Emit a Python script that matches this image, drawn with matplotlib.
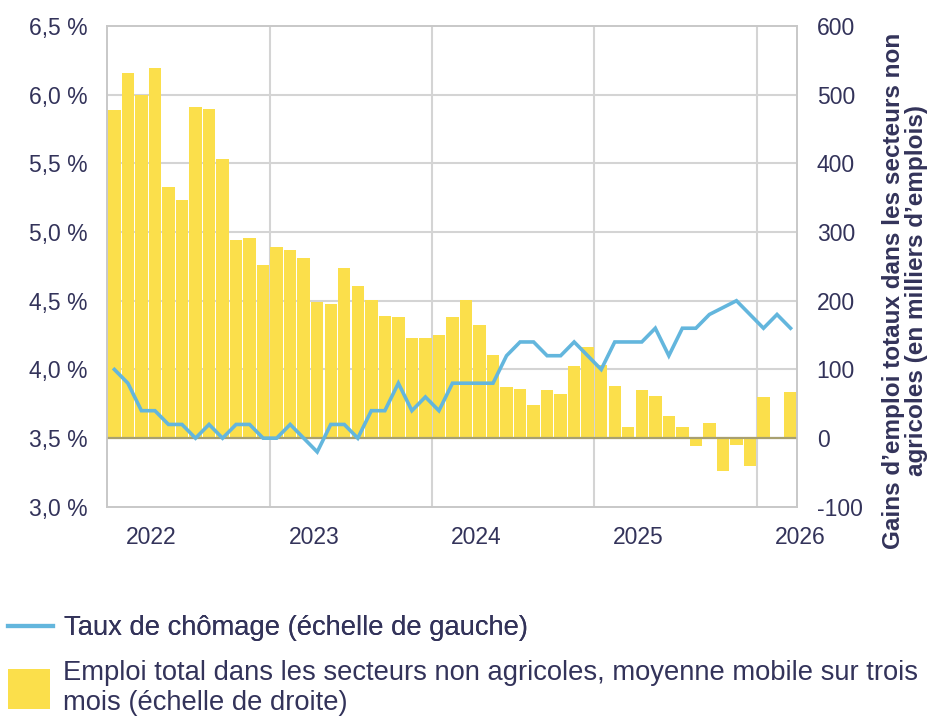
import numpy as np
import matplotlib
matplotlib.use("Agg")
import matplotlib.pyplot as plt
from matplotlib.lines import Line2D
from matplotlib.patches import Patch

plt.rcParams['font.family'] = ['Liberation Sans', 'DejaVu Sans']

# ---- données (janv. 2022 -> mars 2026, mensuel) ----
emploi = [477, 531, 499, 539, 365, 346, 482, 479, 406, 288, 291, 252,
          278, 274, 262, 198, 195, 247, 221, 201, 178, 176, 146, 146,
          150, 176, 201, 164, 121, 74, 71, 48, 70, 64, 105, 132,
          106, 76, 17, 70, 61, 32, 17, -12, 22, -48, -10, -41,
          60, 2, 67]
chomage = [4.0, 3.9, 3.7, 3.7, 3.6, 3.6, 3.5, 3.6, 3.5, 3.6, 3.6, 3.5,
           3.5, 3.6, 3.5, 3.4, 3.6, 3.6, 3.5, 3.7, 3.7, 3.9, 3.7, 3.8,
           3.7, 3.9, 3.9, 3.9, 3.9, 4.1, 4.2, 4.2, 4.1, 4.1, 4.2, 4.1,
           4.0, 4.2, 4.2, 4.2, 4.3, 4.1, 4.3, 4.3, 4.4, 4.45, 4.5, 4.4,
           4.3, 4.4, 4.3]
annees = ["2022", "2023", "2024", "2025", "2026"]
gauche_ticks = [3.0, 3.5, 4.0, 4.5, 5.0, 5.5, 6.0, 6.5]
droite_ticks = [-100, 0, 100, 200, 300, 400, 500, 600]

txt = '#33335a'
jaune = '#fbdf4b'
bleu = '#63b6dd'
grille = '#d4d4d4'

x = np.arange(len(emploi))

fig = plt.figure(figsize=(9.38, 7.17), dpi=100)
ax = fig.add_axes([0.114, 0.293, 0.736, 0.671])
ax2 = ax.twinx()

# barres sur l'axe de droite, mais derriere la ligne
ax.set_zorder(2)
ax.patch.set_visible(False)
ax2.set_zorder(1)

ax2.bar(x, emploi, width=0.92, color=jaune, zorder=2)
ax2.axhline(0, color='#a8a070', lw=1.6, zorder=3)
ax.plot(x, chomage, color=bleu, lw=2.6, solid_joinstyle='miter', zorder=4)

ax.set_xlim(-0.55, len(emploi) - 0.5)
ax2.set_xlim(-0.55, len(emploi) - 0.5)
ax.set_ylim(3.0, 6.5)
ax2.set_ylim(-100, 600)

ax.set_yticks(gauche_ticks)
ax.set_yticklabels([f"{v:.1f} %".replace('.', ',') for v in gauche_ticks])
ax2.set_yticks(droite_ticks)
ax2.set_yticklabels([str(v) for v in droite_ticks])

# grille : lignes horizontales + frontieres d'annees
for v in gauche_ticks[1:-1]:
    ax2.axhline((v - 3.5) * 200, color=grille, lw=1.5, zorder=1)
for i in range(1, len(annees)):
    ax2.axvline(12 * i - 0.5, color=grille, lw=1.5, zorder=1)

ax.set_xticks([])
ax2.set_xticks([])
for i, a in enumerate(annees):
    ax.text(12 * i - 0.5 + 3.25, -0.064, a, transform=ax.get_xaxis_transform(),
            ha='center', va='center', fontsize=16.5, color=txt)

for a in (ax, ax2):
    a.tick_params(axis='y', length=0, labelsize=16.5, labelcolor=txt, pad=14)
    for s in a.spines.values():
        s.set_color('#c8c8c8')
        s.set_linewidth(1.2)

ax2.set_ylabel("Gains d\u2019emploi totaux dans les secteurs non\nagricoles (en milliers d\u2019emplois)",
               fontsize=17.5, fontweight='bold', color=txt, linespacing=1.0)
ax2.yaxis.set_label_coords(1.122, 0.45)

# ---- légende ----
fs_leg = 19.7
leg1 = fig.legend([Line2D([], [], color=bleu, lw=3)],
                  ["Taux de chômage (échelle de gauche)"],
                  loc='center left', bbox_to_anchor=(0.0085, 0.124), frameon=False,
                  fontsize=fs_leg, handlelength=1.63, handletextpad=0.4,
                  borderpad=0, borderaxespad=0, labelcolor=txt)
leg2 = fig.legend([Patch(facecolor=jaune, edgecolor='none')],
                  ["Emploi total dans les secteurs non agricoles, moyenne mobile sur trois\nmois (échelle de droite)"],
                  loc='center left', bbox_to_anchor=(0.0085, 0.0405), frameon=False,
                  fontsize=fs_leg, handlelength=1.55, handleheight=1.85,
                  handletextpad=0.45, borderpad=0, borderaxespad=0,
                  labelcolor=txt, labelspacing=0)
fig.add_artist(leg1)

fig.savefig("out.png", dpi=100)
